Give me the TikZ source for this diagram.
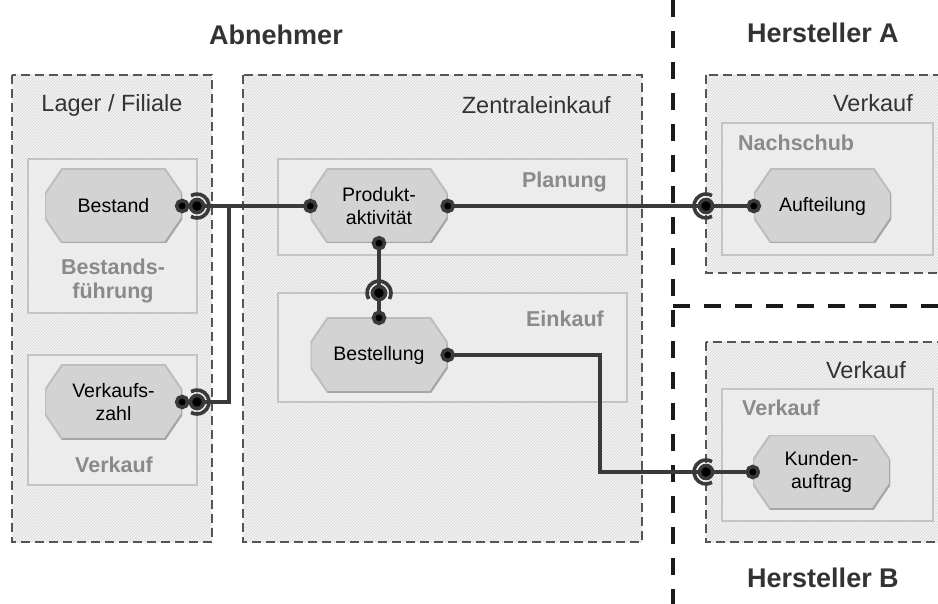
\documentclass[tikz,border=0pt]{standalone}
\usepackage{fontspec}
\setmainfont{Liberation Sans}
\usetikzlibrary{patterns}
\definecolor{conn}{HTML}{3A3A3A}
\definecolor{dashgray}{HTML}{555555}
\definecolor{hatchbg}{HTML}{F4F4F4}
\definecolor{hatchline}{HTML}{D6D6D6}
\definecolor{innerfill}{HTML}{ECECEC}
\definecolor{innerdraw}{HTML}{C4C4C4}
\definecolor{octfill}{HTML}{D3D3D3}
\definecolor{octdraw}{HTML}{BDBDBD}
\definecolor{octshadow}{HTML}{A6A6A6}
\definecolor{titlecol}{HTML}{333333}
\definecolor{labgray}{HTML}{8A8A8A}
\definecolor{divider}{HTML}{1A1A1A}
\tikzset{
  outerbox/.style={draw=dashgray, line width=2.2pt, dash pattern=on 9pt off 5pt,
    preaction={fill=hatchbg}, pattern=north east lines, pattern color=hatchline},
  innerbox/.style={draw=innerdraw, fill=innerfill, line width=1.2pt},
  octnode/.style={minimum width=137pt, minimum height=74pt, inner sep=0pt, align=center,
    font=\fontsize{19.5}{23}\selectfont, text=black,
    path picture={
      \fill[octfill, draw=octdraw, line width=2pt]
        ([xshift=17pt]path picture bounding box.north west) --
        ([xshift=-17pt]path picture bounding box.north east) --
        ([yshift=-25pt]path picture bounding box.north east) --
        ([yshift=25pt]path picture bounding box.south east) --
        ([xshift=-17pt]path picture bounding box.south east) --
        ([xshift=17pt]path picture bounding box.south west) --
        ([yshift=25pt]path picture bounding box.south west) --
        ([yshift=-25pt]path picture bounding box.north west) -- cycle;
      \draw[octshadow, line width=2pt]
        ([yshift=-25pt]path picture bounding box.north east) --
        ([yshift=25pt]path picture bounding box.south east) --
        ([xshift=-17pt]path picture bounding box.south east) --
        ([xshift=17pt]path picture bounding box.south west);
    }},
  conn/.style={draw=conn, line width=3.6pt},
  title/.style={font=\fontsize{27}{31}\selectfont\bfseries, text=titlecol, inner sep=0pt},
  outlabel/.style={font=\fontsize{23.5}{27}\selectfont, text=titlecol, inner sep=0pt},
  inlabel/.style={font=\fontsize{21.5}{23.5}\selectfont\bfseries, text=labgray, inner sep=0pt, align=center},
  divline/.style={draw=divider, line width=4.5pt, dash pattern=on 17pt off 14pt},
}
\begin{document}
\begin{tikzpicture}[x=1pt,y=-1pt]
\useasboundingbox[fill=white] (0,0) rectangle (938,604);
\clip (0,0) rectangle (938,604);

% outer dashed boxes
\draw[outerbox] (12,75) rectangle (212,542);
\draw[outerbox] (243,75) rectangle (642,542);
\draw[outerbox] (706,75) rectangle (948,273);
\draw[outerbox] (706,342) rectangle (948,542);

% dividers
\draw[divline] (673,0) -- (673,604);
\draw[divline] (673,306) -- (940,306);

% titles
\node[title] (tAb) at (276,35) {Abnehmer};
\node[title] (tHA) at (823,33) {Hersteller A};
\node[title] (tHB) at (823,578) {Hersteller B};

% outer labels
\node[outlabel] (lLager) at (112,105) {Lager / Filiale};
\node[outlabel, anchor=east] (lZentral) at (611,105) {Zentraleinkauf};
\node[outlabel, anchor=east] (lVA) at (913,103) {Verkauf};
\node[outlabel, anchor=east] (lVB) at (906,370) {Verkauf};

% inner boxes
\draw[innerbox] (28,159) rectangle (197,313);
\draw[innerbox] (28,355) rectangle (197,485);
\draw[innerbox] (278,159) rectangle (627,255);
\draw[innerbox] (278,293) rectangle (627,402);
\draw[innerbox] (722,123) rectangle (933,255);
\draw[innerbox] (722,389) rectangle (933,521);

% inner labels
\node[inlabel] (lBF) at (113,281) {Bestands-\\führung};
\node[inlabel] (lVL) at (114,465) {Verkauf};
\node[inlabel, anchor=east] (lPl) at (607,182) {Planung};
\node[inlabel, anchor=east] (lEk) at (604,319) {Einkauf};
\node[inlabel, anchor=west] (lNs) at (738,143) {Nachschub};
\node[inlabel, anchor=west] (lVR) at (742,408) {Verkauf};

% octagon nodes
\node[octnode] (bestand) at (113.5,206) {Bestand};
\node[octnode] (vzahl) at (113.5,402) {Verkaufs-\\zahl};
\node[octnode] (produkt) at (379,206) {Produkt-\\aktivität};
\node[octnode] (bestellung) at (379,355) {Bestellung};
\node[octnode] (aufteilung) at (822.5,206) {Aufteilung};
\node[octnode] (kunden) at (821.5,472) {Kunden-\\auftrag};

% coordinates
\coordinate (s1) at (197,206);
\coordinate (s2) at (197,402);
\coordinate (s3) at (706,206);
\coordinate (s4) at (379,293);
\coordinate (s5) at (706,472);
\coordinate (j1) at (229,206);
\coordinate (j2) at (229,402);
\coordinate (b1) at (600,355);
\coordinate (b2) at (600,472);

% connectors
\draw[conn] (bestand.east) -- (s1) -- (produkt.west);
\draw[conn] (j1) -- (j2) -- (vzahl.east);
\draw[conn] (produkt.east) -- (s3) -- (aufteilung.west);
\draw[conn] (produkt.south) -- (s4) -- (bestellung.north);
\draw[conn] (bestellung.east) -- (b1) -- (b2) -- (s5) -- (kunden.west);

% dots
\foreach \p in {bestand.east, vzahl.east, produkt.west, produkt.east, produkt.south,
  bestellung.north, bestellung.east, aufteilung.west, kunden.west}
  \fill[conn] (\p) circle[radius=5.5];
\foreach \p in {s1,s2,s3,s4,s5}
  \fill[conn] (\p) circle[radius=6.5];

% sockets
\draw[conn] (s1) ++(-120:12) arc[start angle=-120, end angle=120, radius=12];
\draw[conn] (s2) ++(-120:12) arc[start angle=-120, end angle=120, radius=12];
\draw[conn] (s3) ++(60:12) arc[start angle=60, end angle=300, radius=12];
\draw[conn] (s5) ++(60:12) arc[start angle=60, end angle=300, radius=12];
\draw[conn] (s4) ++(-210:12) arc[start angle=-210, end angle=30, radius=12];
\end{tikzpicture}
\end{document}
